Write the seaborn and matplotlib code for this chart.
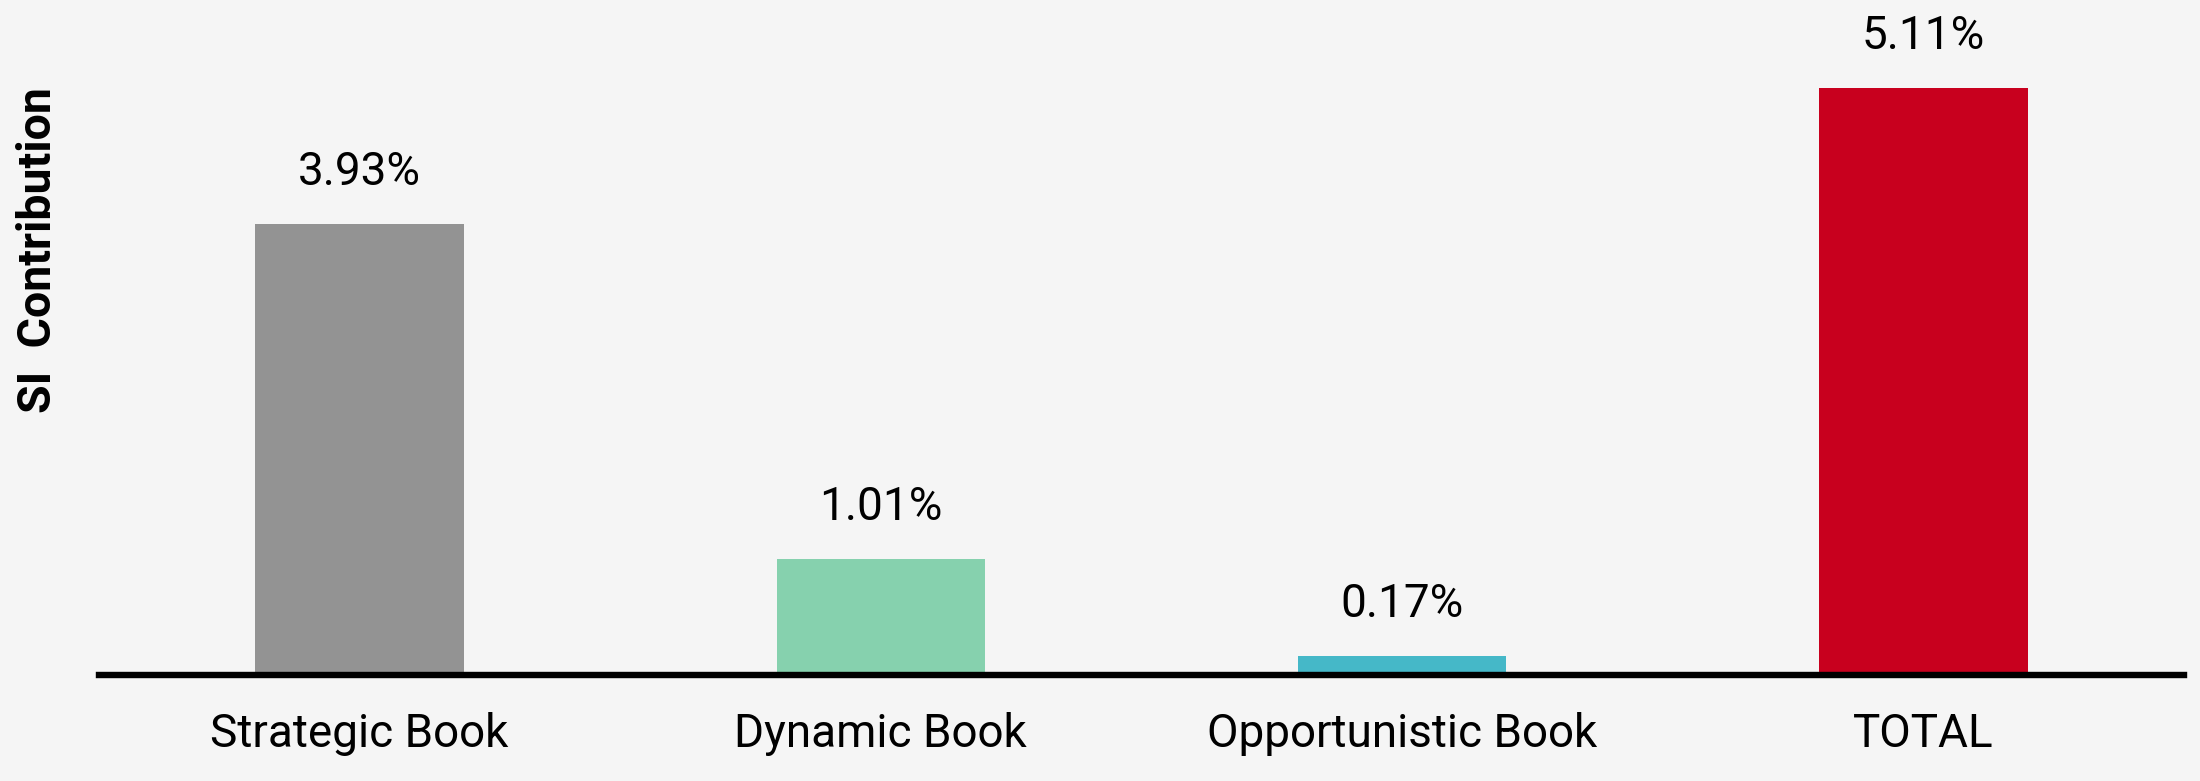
import seaborn as sns
import pandas as pd
import matplotlib.pyplot as plt

books = ["Strategic Book", "Dynamic Book", "Opportunistic Book", "TOTAL"]
contribution = [3.93, 1.01, 0.17, 5.11]
bar_colors = ["#939393", "#86D1AE", "#45B8C8", "#C8001E"]

df = pd.DataFrame({"book": books, "contribution": contribution})

sns.set_theme(style="white")
plt.rcParams["font.family"] = ["Roboto", "DejaVu Sans"]

fig = plt.figure(figsize=(22, 7.81), dpi=100, facecolor="#F5F5F5")
ax = fig.add_axes([0.045, 0.1351, 0.9477, 0.8649])
ax.set_facecolor("#F5F5F5")

sns.barplot(data=df, x="book", y="contribution", hue="book",
            palette=bar_colors, width=0.4, saturation=1, legend=False,
            linewidth=0, ax=ax)

for i, v in enumerate(contribution):
    ax.annotate(f"{v:.2f}%", (i, v), xytext=(0, 28), textcoords="offset points",
                ha="center", va="baseline", fontsize=33, color="black")

ax.set_xlim(-0.5, 3.5)
ax.set_ylim(0, 5.874)
ax.set_xlabel("")
ax.set_ylabel("")
ax.set_yticks([])
for side in ["top", "right", "left"]:
    ax.spines[side].set_visible(False)
ax.spines["bottom"].set_linewidth(4.6)
ax.spines["bottom"].set_color("black")
ax.tick_params(axis="x", length=0, pad=26, labelsize=33, labelcolor="black")

fig.text(38 / 2200, 1 - 250 / 781, "SI  Contribution", rotation=90,
         ha="center", va="center", fontsize=33.5, fontweight="bold", color="black")

plt.savefig("out.png", dpi=100, facecolor=fig.get_facecolor())
